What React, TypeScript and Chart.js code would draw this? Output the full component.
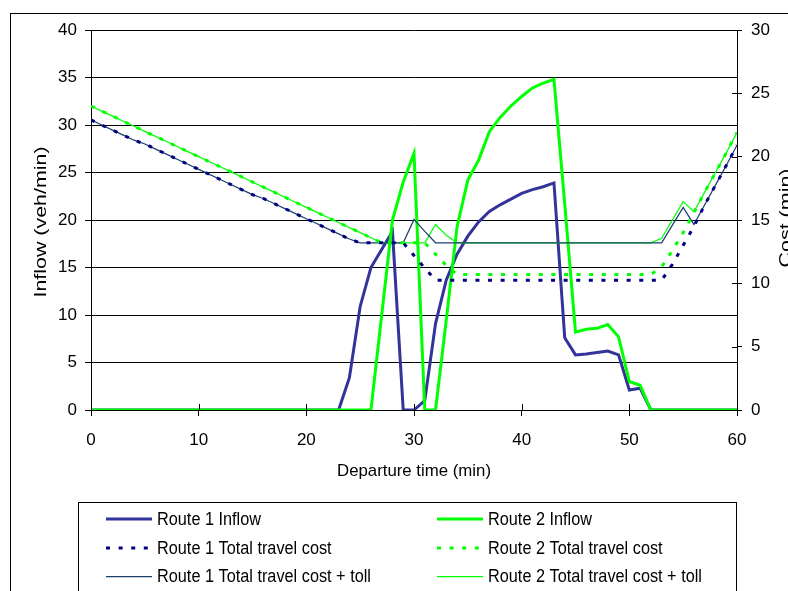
import React, { useEffect, useRef } from "react";
import { Chart, registerables } from "chart.js";

Chart.register(...registerables);

// ---------- data ----------
const minutes = [
  0, 1, 2, 3, 4, 5, 6, 7, 8, 9, 10, 11, 12, 13, 14, 15, 16, 17, 18, 19, 20,
  21, 22, 23, 24, 25, 26, 27, 28, 29, 30, 31, 32, 33, 34, 35, 36, 37, 38, 39, 40,
  41, 42, 43, 44, 45, 46, 47, 48, 49, 50, 51, 52, 53, 54, 55, 56, 57, 58, 59, 60,
];

const route1Inflow = [
  0, 0, 0, 0, 0, 0, 0, 0, 0, 0, 0, 0, 0, 0, 0, 0, 0, 0, 0, 0, 0, 0, 0, 0,
  3.4, 10.9, 15.0, 16.9, 18.8, 0, 0, 1.0, 9.1, 13.7, 16.4, 18.3, 19.8, 20.9, 21.6, 22.2,
  22.8, 23.2, 23.5, 23.9, 7.6, 5.8, 5.9, 6.05, 6.2, 5.8, 2.1, 2.3, 0,
  0, 0, 0, 0, 0, 0, 0, 0,
];

const route2Inflow = [
  0, 0, 0, 0, 0, 0, 0, 0, 0, 0, 0, 0, 0, 0, 0, 0, 0, 0, 0, 0, 0, 0, 0, 0, 0, 0, 0,
  10.0, 20.0, 24.0, 27.0, 0, 0, 9.5, 19.3, 24.2, 26.3, 29.3, 30.8, 32.0, 33.0, 33.9,
  34.4, 34.8, 21.7, 8.2, 8.5, 8.6, 9.0, 7.7, 3.0, 2.6, 0,
  0, 0, 0, 0, 0, 0, 0, 0,
];

const route1Cost = [
  22.9, 22.5, 22.1, 21.7, 21.3, 21.0, 20.6, 20.2, 19.8, 19.4, 19.0, 18.6, 18.2,
  17.8, 17.4, 17.0, 16.7, 16.3, 15.9, 15.5, 15.1, 14.7, 14.3, 13.9, 13.5, 13.2,
  13.2, 13.2, 13.2, 13.2, 12.2, 11.2,
  10.25, 10.25, 10.25, 10.25, 10.25, 10.25, 10.25, 10.25, 10.25, 10.25, 10.25,
  10.25, 10.25, 10.25, 10.25, 10.25, 10.25, 10.25, 10.25, 10.25, 10.25, 10.25,
  11.5, 13.0, 14.5, 16.2, 17.75, 19.3, 20.9,
];

const route1CostToll = [
  22.9, 22.5, 22.1, 21.7, 21.3, 21.0, 20.6, 20.2, 19.8, 19.4, 19.0, 18.6, 18.2,
  17.8, 17.4, 17.0, 16.7, 16.3, 15.9, 15.5, 15.1, 14.7, 14.3, 13.9, 13.5, 13.2,
  13.2, 13.2, 13.2, 13.2, 15.05, 14.1,
  13.2, 13.2, 13.2, 13.2, 13.2, 13.2, 13.2, 13.2, 13.2, 13.2, 13.2,
  13.2, 13.2, 13.2, 13.2, 13.2, 13.2, 13.2, 13.2, 13.2, 13.2, 13.2,
  14.6, 16.0, 14.65, 16.2, 17.75, 19.3, 20.9,
];

const route2Cost = [
  24.0, 23.6, 23.2, 22.8, 22.4, 22.0, 21.6, 21.2, 20.8, 20.4, 20.0, 19.6, 19.2, 18.8,
  18.4, 18.0, 17.6, 17.2, 16.8, 16.4, 16.0, 15.6, 15.2, 14.8, 14.4, 14.0, 13.6, 13.2,
  13.2, 13.2, 13.2, 13.2, 12.3, 11.4,
  10.7, 10.7, 10.7, 10.7, 10.7, 10.7, 10.7, 10.7, 10.7, 10.7,
  10.7, 10.7, 10.7, 10.7, 10.7, 10.7, 10.7, 10.7, 10.7,
  11.3, 12.6, 14.0, 15.6, 17.2, 18.75, 20.3, 21.9,
];

const route2CostToll = [
  24.0, 23.6, 23.2, 22.8, 22.4, 22.0, 21.6, 21.2, 20.8, 20.4, 20.0, 19.6, 19.2, 18.8,
  18.4, 18.0, 17.6, 17.2, 16.8, 16.4, 16.0, 15.6, 15.2, 14.8, 14.4, 14.0, 13.6, 13.2,
  13.2, 13.2, 13.2, 13.2, 14.65, 13.8,
  13.2, 13.2, 13.2, 13.2, 13.2, 13.2, 13.2, 13.2, 13.2, 13.2,
  13.2, 13.2, 13.2, 13.2, 13.2, 13.2, 13.2, 13.2, 13.2,
  13.55, 15.0, 16.45, 15.65, 17.2, 18.75, 20.3, 21.9,
];

const seriesLabels = [
  "Route 1 Inflow",
  "Route 2 Inflow",
  "Route 1 Total travel cost",
  "Route 2 Total travel cost",
  "Route 1 Total travel cost + toll",
  "Route 2 Total travel cost + toll",
];

const xTitle = "Departure time (min)";
const yTitle = "Inflow (veh/min)";
const y1Title = "Cost (min)";

// ---------- layout / style ----------
const W = 788;
const H = 591;
const FONT = "'Liberation Sans', Arial, Helvetica, sans-serif";
const NAVY = "#333399";
const NAVY_DOT = "#000080";
const NAVY_THIN = "#1F3F6F";
const GREEN = "#00FF00";
const DOT = [4, 8.6];

function drawFitted(
  ctx: CanvasRenderingContext2D,
  text: string,
  x: number,
  y: number,
  target: number,
  size: number,
  rot: number
) {
  ctx.save();
  ctx.translate(x, y);
  ctx.rotate(rot);
  ctx.font = `${size}px ${FONT}`;
  const w = ctx.measureText(text).width;
  ctx.scale(target / w, 1);
  ctx.textAlign = "center";
  ctx.textBaseline = "alphabetic";
  ctx.fillStyle = "#000";
  ctx.fillText(text, 0, 0);
  ctx.restore();
}

const decor = {
  id: "decor",
  afterDraw(chart: any) {
    const ctx: CanvasRenderingContext2D = chart.ctx;
    const area = chart.chartArea;
    const xs = chart.scales.x;
    const y1 = chart.scales.y1;
    ctx.save();

    // inner halves of crossing tick marks
    ctx.strokeStyle = "#000";
    ctx.lineWidth = 1;
    ctx.beginPath();
    xs.ticks.forEach((t: any) => {
      const px = Math.round(xs.getPixelForValue(t.value)) + 0.5;
      ctx.moveTo(px, area.bottom - 6);
      ctx.lineTo(px, area.bottom);
    });
    y1.ticks.forEach((t: any) => {
      const py = Math.round(y1.getPixelForValue(t.value)) + 0.5;
      ctx.moveTo(area.right - 5, py);
      ctx.lineTo(area.right, py);
    });
    ctx.stroke();

    // outer frame
    ctx.lineWidth = 1;
    ctx.strokeStyle = "#000";
    ctx.strokeRect(10.5, 13.5, W + 50, H + 50);

    // axis titles
    drawFitted(ctx, xTitle, (area.left + area.right) / 2, 476, 154, 17, 0);
    drawFitted(ctx, yTitle, 46, 222, 151, 17, -Math.PI / 2);
    drawFitted(ctx, y1Title, 791, 218, 99, 17, -Math.PI / 2);

    // legend box
    ctx.strokeStyle = "#000";
    ctx.lineWidth = 1;
    ctx.strokeRect(78.5, 502.5, 658, 200);

    const colX = [106, 437];
    const rowY = [519, 548, 576.5];
    chart.data.datasets.forEach((ds: any, i: number) => {
      const cx = colX[i % 2];
      const cy = rowY[Math.floor(i / 2)];
      ctx.save();
      ctx.strokeStyle = ds.borderColor;
      ctx.lineWidth = ds.borderWidth;
      ctx.setLineDash(ds.borderDash || []);
      ctx.lineCap = "butt";
      ctx.beginPath();
      ctx.moveTo(cx, cy);
      ctx.lineTo(cx + 46, cy);
      ctx.stroke();
      ctx.restore();

      ctx.save();
      ctx.translate(cx + 51, cy);
      ctx.scale(0.93, 1);
      ctx.font = `17.5px ${FONT}`;
      ctx.fillStyle = "#000";
      ctx.textAlign = "left";
      ctx.textBaseline = "middle";
      ctx.fillText(ds.label, 0, 1);
      ctx.restore();
    });

    ctx.restore();
  },
};

export default function App() {
  const ref = useRef<HTMLCanvasElement>(null);

  useEffect(() => {
    const canvas = ref.current;
    if (!canvas) return;
    const pts = (arr: number[]) => minutes.map((m, i) => ({ x: m, y: arr[i] }));
    const line = (
      label: string,
      arr: number[],
      color: string,
      width: number,
      axis: string,
      order: number,
      dash?: number[]
    ) => ({
      label,
      data: pts(arr),
      borderColor: color,
      backgroundColor: color,
      borderWidth: width,
      borderDash: dash || [],
      borderCapStyle: "butt" as const,
      pointRadius: 0,
      tension: 0,
      fill: false,
      yAxisID: axis,
      order,
    });

    const chart = new Chart(canvas, {
      type: "line",
      data: {
        datasets: [
          line(seriesLabels[0], route1Inflow, NAVY, 3, "y", 5),
          line(seriesLabels[1], route2Inflow, GREEN, 3, "y", 4),
          line(seriesLabels[2], route1Cost, NAVY_DOT, 3, "y1", 0, DOT),
          line(seriesLabels[3], route2Cost, GREEN, 3, "y1", 1, DOT),
          line(seriesLabels[4], route1CostToll, NAVY_THIN, 1.25, "y1", 2),
          line(seriesLabels[5], route2CostToll, GREEN, 1.25, "y1", 3),
        ],
      },
      options: {
        responsive: false,
        animation: false,
        devicePixelRatio: 1,
        layout: { padding: { top: 30, left: 0, right: 0, bottom: 0 } },
        plugins: {
          legend: { display: false },
          tooltip: { enabled: false },
          title: { display: false },
        },
        scales: {
          x: {
            type: "linear",
            min: 0,
            max: 60,
            ticks: {
              stepSize: 10,
              color: "#000",
              font: { family: FONT, size: 17 },
              padding: 14,
              maxRotation: 0,
            },
            grid: {
              drawOnChartArea: false,
              drawTicks: true,
              tickLength: 6,
              color: "#000",
            },
            border: { display: true, color: "#000", width: 1 },
            afterFit: (s: any) => {
              s.height = 181;
            },
          },
          y: {
            type: "linear",
            position: "left",
            min: 0,
            max: 40,
            ticks: {
              stepSize: 5,
              color: "#000",
              font: { family: FONT, size: 17 },
              padding: 8,
            },
            grid: {
              color: "#000",
              lineWidth: 1,
              drawTicks: true,
              tickLength: 6,
            },
            border: { display: true, color: "#000", width: 1 },
            afterFit: (s: any) => {
              s.width = 91;
            },
          },
          y1: {
            type: "linear",
            position: "right",
            min: 0,
            max: 30,
            ticks: {
              stepSize: 5,
              color: "#000",
              font: { family: FONT, size: 17 },
              padding: 9,
            },
            grid: {
              drawOnChartArea: false,
              drawTicks: true,
              tickLength: 5,
              color: "#000",
            },
            border: { display: true, color: "#000", width: 1 },
            afterFit: (s: any) => {
              s.width = 51;
            },
          },
        },
      },
      plugins: [decor],
    } as any);

    return () => chart.destroy();
  }, []);

  return (
    <div style={{ position: "absolute", left: 0, top: 0, width: W, height: H, background: "#fff" }}>
      <canvas ref={ref} width={W} height={H} style={{ width: W, height: H, display: "block" }} />
    </div>
  );
}
